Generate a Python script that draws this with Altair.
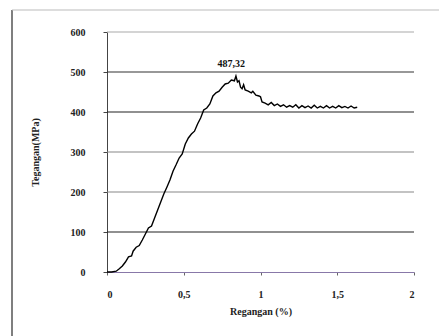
import altair as alt
import pandas as pd

strain = [0, 0.03, 0.06, 0.08, 0.10, 0.12, 0.14, 0.16, 0.17, 0.19, 0.21, 0.23, 0.25, 0.27,
          0.29, 0.31, 0.33, 0.35, 0.37, 0.39, 0.41, 0.43, 0.45, 0.47, 0.49, 0.51, 0.53,
          0.55, 0.57, 0.59, 0.61, 0.63, 0.65, 0.67, 0.69, 0.71, 0.73, 0.75, 0.77, 0.79,
          0.81, 0.83, 0.84, 0.85, 0.86, 0.87, 0.88, 0.89, 0.90, 0.92, 0.94, 0.95, 0.97,
          0.99, 1.00, 1.01, 1.03, 1.05, 1.07, 1.09, 1.11, 1.13, 1.15, 1.17, 1.19, 1.21,
          1.23, 1.25, 1.27, 1.29, 1.31, 1.33, 1.35, 1.37, 1.39, 1.41, 1.43, 1.45, 1.47,
          1.49, 1.51, 1.53, 1.55, 1.57, 1.59, 1.61, 1.63]
stress = [0, 0, 2, 8, 15, 25, 38, 40, 52, 62, 66, 80, 95, 110,
          115, 135, 155, 175, 195, 212, 230, 252, 268, 285, 295, 320, 335,
          345, 352, 370, 385, 405, 410, 420, 440, 448, 452, 462, 470, 472,
          480, 478, 490, 475, 478, 462, 458, 468, 455, 452, 448, 452, 442,
          440, 438, 425, 422, 418, 424, 416, 420, 414, 418, 412, 416, 412,
          418, 410, 416, 411, 415, 410, 417, 410, 414, 410, 416, 410, 414,
          410, 416, 411, 414, 410, 415, 410, 412]

y_ticks = [0, 100, 200, 300, 400, 500, 600]
x_ticks = [0, 0.5, 1, 1.5, 2]
x_labels = ["0", "0,5", "1", "1,5", "2"]
grid_colors = ["#222", "#888", "#888", "#222", "#333", "#aaa"]
peak_label = "487,32"
peak_x = 0.81
peak_y = 508

df = pd.DataFrame({"x": strain, "y": stress})

FONT = "Times New Roman, Liberation Serif, DejaVu Serif, serif"

xscale = alt.Scale(domain=[0, 2], nice=False)
yscale = alt.Scale(domain=[0, 600], nice=False)

label_expr = "datum.value == 0 ? '0' : datum.value == 0.5 ? '0,5' : datum.value == 1 ? '1' : datum.value == 1.5 ? '1,5' : '2'"

xaxis = alt.Axis(values=x_ticks, labelExpr=label_expr, title="Regangan (%)",
                 grid=False, domainColor="#8878a8", tickColor="#666",
                 tickSize=3, labelFont=FONT, labelFontWeight="bold",
                 labelFontSize=10, labelColor="#222", labelPadding=14,
                 labelOverlap=False,
                 titleFont=FONT, titleFontWeight="bold", titleFontSize=10,
                 titleColor="#222", titlePadding=7)
yaxis = alt.Axis(values=y_ticks, title="Tegangan(MPa)", grid=False,
                 domainColor="#444", tickColor="#444", tickSize=4,
                 labelFont=FONT, labelFontWeight="bold", labelFontSize=10,
                 labelColor="#222", labelPadding=18, labelOverlap=False,
                 titleFont=FONT, titleFontWeight="bold", titleFontSize=10,
                 titleColor="#222", titlePadding=30)

line = alt.Chart(df).mark_line(color="black", strokeWidth=1.4).encode(
    x=alt.X("x:Q", scale=xscale, axis=xaxis),
    y=alt.Y("y:Q", scale=yscale, axis=yaxis),
)

grid_df = pd.DataFrame({"g": y_ticks[1:], "c": grid_colors})
grid = alt.Chart(grid_df).mark_rule(strokeWidth=1.2).encode(
    y=alt.Y("g:Q", scale=yscale, axis=yaxis),
    x=alt.value(0), x2=alt.value(307),
    color=alt.Color("c:N", scale=None),
)

ann_df = pd.DataFrame({"x": [peak_x], "y": [peak_y], "t": [peak_label]})
ann = alt.Chart(ann_df).mark_text(font=FONT, fontSize=10, fontWeight="bold", color="#111",
                                  baseline="bottom").encode(
    x=alt.X("x:Q", scale=xscale, axis=xaxis), y=alt.Y("y:Q", scale=yscale, axis=yaxis),
    text="t:N")

frame_left = alt.Chart(pd.DataFrame({"a": [0]})).mark_rule(color="#555", strokeWidth=1.5).encode(
    x=alt.value(-95), y=alt.value(-22), y2=alt.value(304))
frame_top = alt.Chart(pd.DataFrame({"a": [0]})).mark_rule(color="#bbb", strokeWidth=1.2).encode(
    x=alt.value(-95), x2=alt.value(332), y=alt.value(-22))

chart = alt.layer(grid, frame_left, frame_top, line, ann).properties(
    width=307, height=240,
    padding={"left": 107, "top": 32, "right": 25, "bottom": 64},
    autosize=alt.AutoSizeParams(type="none"),
    background="white",
).configure_view(stroke=None)

chart.save("out.html", embed_options={"renderer": "svg", "actions": False})
